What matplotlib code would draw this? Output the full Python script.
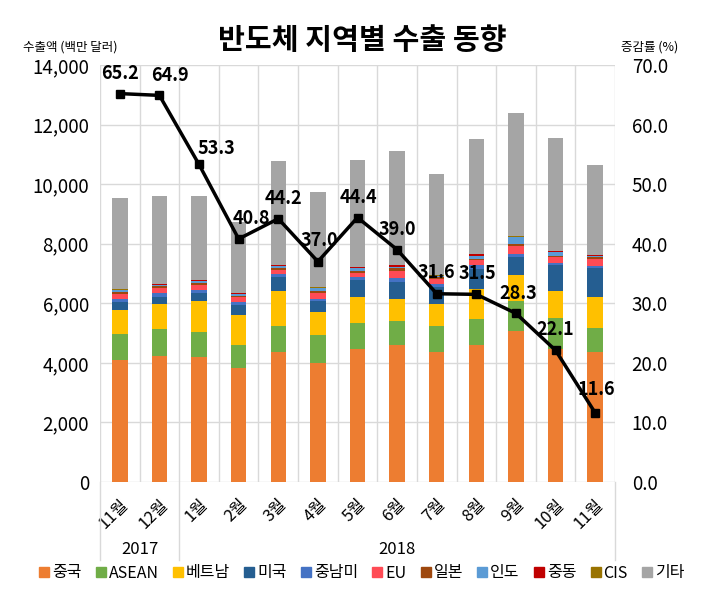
import matplotlib
matplotlib.use("Agg")
import matplotlib.pyplot as plt
from matplotlib.lines import Line2D
from matplotlib.ticker import FuncFormatter, MultipleLocator
import numpy as np

plt.rcParams['font.family'] = ['Noto Sans CJK KR', 'DejaVu Sans']

# ---------------- data ----------------
months = ['11월', '12월', '1월', '2월', '3월', '4월', '5월', '6월', '7월', '8월', '9월', '10월', '11월']
years = ['2017', '2018']
series_names = ['중국', 'ASEAN', '베트남', '미국', '중남미', 'EU', '일본', '인도', '중동', 'CIS', '기타']

china   = [4100, 4220, 4180, 3820, 4370, 4000, 4480, 4600, 4370, 4600, 5060, 4460, 4360]
asean   = [880, 930, 860, 770, 880, 950, 870, 820, 870, 880, 1000, 1060, 810]
vietnam = [780, 810, 1040, 1030, 1150, 750, 850, 710, 720, 990, 890, 900, 1030]
usa     = [290, 260, 260, 330, 480, 360, 580, 600, 600, 690, 610, 860, 990]
latam   = [100, 110, 110, 100, 100, 100, 100, 110, 90, 110, 90, 70, 70]
eu      = [150, 170, 170, 150, 140, 200, 140, 260, 180, 170, 290, 210, 220]
japan   = [70, 70, 60, 60, 60, 60, 60, 70, 40, 60, 60, 40, 70]
india   = [60, 50, 60, 50, 60, 80, 120, 60, 30, 80, 220, 120, 50]
mideast = [20, 20, 30, 20, 30, 20, 20, 50, 20, 70, 20, 20, 20]
cis     = [15, 15, 20, 15, 15, 15, 15, 15, 15, 15, 15, 15, 15]
others  = [3065, 2945, 2810, 2375, 3495, 3185, 3565, 3825, 3395, 3855, 4145, 3805, 3015]

growth = [65.2, 64.9, 53.3, 40.8, 44.2, 37.0, 44.4, 39.0, 31.6, 31.5, 28.3, 22.1, 11.6]

series_values = [china, asean, vietnam, usa, latam, eu, japan, india, mideast, cis, others]
colors = ['#ED7D31', '#70AD47', '#FFC000', '#255E91', '#4472C4', '#FF4B55',
          '#9E480E', '#5B9BD5', '#C00000', '#997300', '#A5A5A5']

# ---------------- figure ----------------
fig = plt.figure(figsize=(7.03, 5.99), dpi=100)
L, R, B, T = 100 / 703, 615 / 703, 1 - 482 / 599, 1 - 65 / 599
ax = fig.add_axes([L, B, R - L, T - B])

x = np.arange(len(months))
bottom = np.zeros(len(months))
for vals, c in zip(series_values, colors):
    ax.bar(x, vals, width=0.39, bottom=bottom, color=c, zorder=2, linewidth=0)
    bottom += np.array(vals)

ax.set_xlim(-0.5, len(months) - 0.5)
ax.set_ylim(0, 14000)
ax.yaxis.set_major_locator(MultipleLocator(2000))
ax.yaxis.set_major_formatter(FuncFormatter(lambda v, p: f'{int(v):,}'))
ax.grid(axis='y', color='#D9D9D9', linewidth=1, zorder=0)
for k in range(len(months) + 1):
    ax.axvline(k - 0.5, color='#D9D9D9', linewidth=1, zorder=0)
for s in ax.spines.values():
    s.set_visible(False)
ax.tick_params(axis='both', length=0)
ax.tick_params(axis='y', labelsize=13.5, pad=8)
ax.set_xticks(x)
ax.set_xticklabels(months, rotation=45, ha='right', rotation_mode='anchor', fontsize=12)
ax.tick_params(axis='x', pad=10)

# year group separators and labels
trans = ax.get_xaxis_transform()
for xs in [-0.5, 1.5, len(months) - 0.5]:
    ax.plot([xs, xs], [0, -0.187], transform=trans, color='#D9D9D9', lw=1, clip_on=False)
ax.text(0.5, -0.163, years[0], transform=trans, ha='center', va='center', fontsize=12)
ax.text(7, -0.163, years[1], transform=trans, ha='center', va='center', fontsize=12)

# line on secondary axis
ax2 = ax.twinx()
ax2.set_ylim(0, 70)
ax2.yaxis.set_major_locator(MultipleLocator(10))
ax2.yaxis.set_major_formatter(FuncFormatter(lambda v, p: f'{v:.1f}'))
for s in ax2.spines.values():
    s.set_visible(False)
ax2.tick_params(axis='y', length=0, labelsize=13.5, pad=12)
ax2.plot(x, growth, color='black', lw=2.5, marker='s', markersize=6, zorder=5)

offsets = [(0, 20), (11, 20), (17, 16), (13, 20), (5, 20), (1, 21), (1, 20),
           (0, 20), (0, 21), (1, 21), (2, 20), (0, 21), (1, 23)]
for xi, gi, (dx, dy) in zip(x, growth, offsets):
    ax2.annotate(f'{gi:.1f}', (xi, gi), xytext=(dx, dy), textcoords='offset pixels',
                 ha='center', va='center', fontsize=13, fontweight='bold', zorder=6)

# titles
fig.text(362 / 703, 1 - 40 / 599, '반도체 지역별 수출 동향', ha='center', va='center',
         fontsize=21, fontweight='black')
fig.text(70 / 703, 1 - 47 / 599, '수출액 (백만 달러)', ha='center', va='center', fontsize=9)
fig.text(650 / 703, 1 - 47 / 599, '증감률 (%)', ha='center', va='center', fontsize=9)

# legend
handles = [Line2D([0], [0], marker='s', color='none', markerfacecolor=c, markeredgecolor=c,
                  markersize=6.5) for c in colors]
fig.legend(handles, series_names, loc='center', bbox_to_anchor=(362 / 703, 1 - 573 / 599),
           ncol=len(series_names), frameon=False, fontsize=11.5, handlelength=0.6,
           handletextpad=0.2, columnspacing=0.9, borderaxespad=0)

fig.savefig('out.png', dpi=100)
